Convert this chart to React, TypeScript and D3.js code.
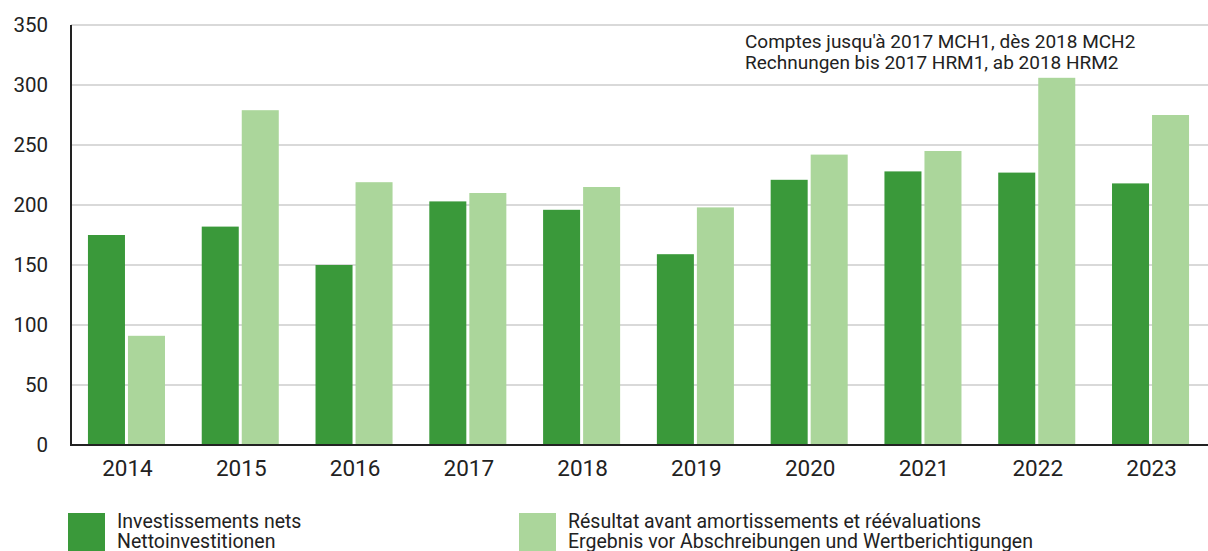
import React from 'react';
import * as d3 from 'd3';

const years = ['2014', '2015', '2016', '2017', '2018', '2019', '2020', '2021', '2022', '2023'];
const netInvest = [175, 182, 150, 203, 196, 159, 221, 228, 227, 218];
const resultBefore = [91, 279, 219, 210, 215, 198, 242, 245, 306, 275];
const yTicks = [0, 50, 100, 150, 200, 250, 300, 350];

const legendItems = [
  { color: '#3a993a', lines: ['Investissements nets', 'Nettoinvestitionen'] },
  { color: '#abd69b', lines: ['Résultat avant amortissements et réévaluations', 'Ergebnis vor Abschreibungen und Wertberichtigungen'] },
];
const noteLines = ["Comptes jusqu'à 2017 MCH1, dès 2018 MCH2", 'Rechnungen bis 2017 HRM1, ab 2018 HRM2'];

const W = 1208;
const H = 551;
const margin = { top: 25, right: 2, bottom: 106, left: 71 };
const font = 'Roboto, "DejaVu Sans", sans-serif';

export default function App() {
  const x = d3.scaleBand<string>().domain(years).range([margin.left, W - margin.right]).paddingInner(0.323).paddingOuter(0.149);
  const y = d3.scaleLinear().domain([0, 350]).range([H - margin.bottom, margin.top]);
  const sub = d3.scaleBand<number>().domain([0, 1]).range([0, x.bandwidth()]).paddingInner(0.075);
  const series = [netInvest, resultBefore];

  return (
    <svg width={W} height={H} style={{ position: 'absolute', left: 0, top: 0 }} fontFamily={font}>
      {yTicks.map((t) => (
        <g key={t}>
          {t > 0 && <line x1={margin.left} x2={W} y1={y(t)} y2={y(t)} stroke="#d9d9d9" strokeWidth={2} />}
          <text x={48} y={y(t)} dy="0.36em" textAnchor="end" fontSize={20.5} fill="#222">{t}</text>
        </g>
      ))}
      {years.map((yr, i) => (
        <g key={yr} transform={`translate(${x(yr)},0)`}>
          {series.map((s, k) => (
            <rect key={k} x={sub(k)} width={sub.bandwidth()} y={y(s[i])} height={y(0) - y(s[i])} fill={legendItems[k].color} />
          ))}
          <text x={x.bandwidth() / 2 + 1} y={y(0) + 31} textAnchor="middle" fontSize={22.5} fill="#222">{yr}</text>
        </g>
      ))}
      <line x1={margin.left} x2={margin.left} y1={margin.top} y2={y(0)} stroke="#222" strokeWidth={2} />
      <line x1={margin.left - 1} x2={W} y1={y(0)} y2={y(0)} stroke="#222" strokeWidth={2} />
      {noteLines.map((l, i) => (
        <text key={i} x={745} y={48 + i * 20.5} fontSize={19} fill="#222">{l}</text>
      ))}
      {legendItems.map((it, i) => (
        <g key={i} transform={`translate(${i === 0 ? 68 : 519},513)`}>
          <rect width={37} height={40} fill={it.color} />
          {it.lines.map((l, j) => (
            <text key={j} x={49} y={15 + j * 20} fontSize={19.5} fill="#222">{l}</text>
          ))}
        </g>
      ))}
    </svg>
  );
}
